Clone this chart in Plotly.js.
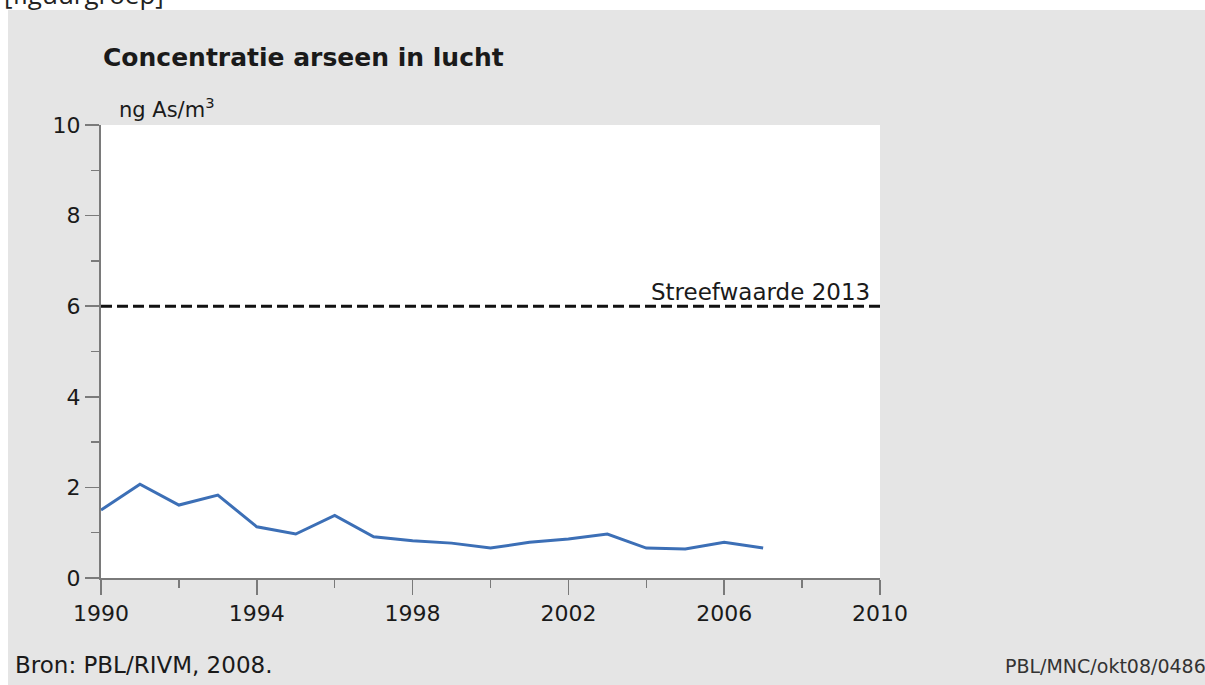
<!DOCTYPE html>
<html>
<head>
<meta charset="utf-8">
<script src="https://cdn.plot.ly/plotly-3.0.1.min.js"></script>
<style>html,body{margin:0;padding:0;background:#fff;}#chart{width:1205px;height:685px;}</style>
</head>
<body>
<div id="chart"></div>
<script>
// ---- data ----
const years = [1990,1991,1992,1993,1994,1995,1996,1997,1998,1999,2000,2001,2002,2003,2004,2005,2006,2007];
const arsenic = [1.50,2.07,1.61,1.83,1.13,0.97,1.38,0.91,0.82,0.77,0.66,0.79,0.86,0.97,0.66,0.64,0.79,0.66];
const targetYears = [1990, 2010];
const targetValue = [6, 6];
const targetLabel = "Streefwaarde 2013";
const titleText = "Concentratie arseen in lucht";
const unitText = "ng As/m<sup>3</sup>";
const sourceText = "Bron: PBL/RIVM, 2008.";
const codeText = "PBL/MNC/okt08/0486";
const headerText = "[figuurgroep]";

// ---- layout geometry (pixels) ----
const W = 1205, H = 685;
const L = 101, R = 325, T = 125, B = 107;
const pw = W - L - R, ph = H - T - B;
const px = x => (x - L) / pw;
const py = y => (H - B - y) / ph;

const FONT = "DejaVu Sans, Liberation Sans, Arial, sans-serif";
const tickColor = "#7a7a7a";

const traces = [
  {
    x: targetYears, y: targetValue, type: "scatter", mode: "lines",
    line: {color: "#111", width: 3, dash: "11px,5px"},
    hoverinfo: "skip", showlegend: false, cliponaxis: false
  },
  {
    x: years, y: arsenic, type: "scatter", mode: "lines",
    line: {color: "#3c6fb6", width: 3},
    showlegend: false
  }
];

const layout = {
  width: W, height: H,
  margin: {l: L, r: R, t: T, b: B, pad: 0},
  paper_bgcolor: "#e5e5e5",
  plot_bgcolor: "#ffffff",
  font: {family: FONT, color: "#222", size: 22},
  showlegend: false,
  title: {
    text: "<b>" + titleText + "</b>",
    font: {family: FONT, size: 25, color: "#1a1a1a"},
    xref: "paper", x: px(103), xanchor: "left",
    yref: "container", y: 1 - 57 / H, yanchor: "middle"
  },
  xaxis: {
    range: [1990, 2010], tickmode: "linear", tick0: 1990, dtick: 4,
    ticks: "outside", ticklen: 15, tickwidth: 1.5, tickcolor: tickColor,
    minor: {dtick: 2, tick0: 1990, ticks: "outside", ticklen: 8, tickwidth: 1.5, tickcolor: tickColor, showgrid: false},
    showline: true, linecolor: tickColor, linewidth: 2,
    showgrid: false, zeroline: false, fixedrange: true,
    tickfont: {family: FONT, size: 22, color: "#1a1a1a"}
  },
  yaxis: {
    range: [0, 10], tickmode: "linear", tick0: 0, dtick: 2,
    ticks: "outside", ticklen: 14, tickwidth: 1.5, tickcolor: tickColor,
    minor: {dtick: 1, tick0: 0, ticks: "outside", ticklen: 8, tickwidth: 1.5, tickcolor: tickColor, showgrid: false},
    showline: true, linecolor: tickColor, linewidth: 2,
    showgrid: false, zeroline: false, fixedrange: true,
    tickfont: {family: FONT, size: 22, color: "#1a1a1a"}
  },
  shapes: [
    {type: "rect", xref: "paper", yref: "paper", x0: px(-5), x1: px(W + 5), y0: py(10), y1: py(-5),
     fillcolor: "#ffffff", line: {width: 0}, layer: "below"},
    {type: "rect", xref: "paper", yref: "paper", x0: px(-5), x1: px(8), y0: py(H + 5), y1: py(-5),
     fillcolor: "#ffffff", line: {width: 0}, layer: "below"}
  ],
  annotations: [
    {text: unitText, xref: "paper", yref: "paper", x: px(117), y: py(108), xanchor: "left", yanchor: "middle",
     showarrow: false, font: {family: FONT, size: 21, color: "#1a1a1a"}},
    {text: targetLabel, xref: "x", yref: "y", x: 2010, y: targetValue[0], xanchor: "right", yanchor: "bottom",
     xshift: -8, yshift: -1, showarrow: false, font: {family: FONT, size: 23, color: "#1a1a1a"}},
    {text: sourceText, xref: "paper", yref: "paper", x: px(13), y: py(665), xanchor: "left", yanchor: "middle",
     showarrow: false, font: {family: FONT, size: 23, color: "#1a1a1a"}},
    {text: codeText, xref: "paper", yref: "paper", x: px(1003), y: py(666), xanchor: "left", yanchor: "middle",
     showarrow: false, font: {family: FONT, size: 19, color: "#333"}},
    {text: headerText, xref: "paper", yref: "paper", x: px(2), y: py(-6), xanchor: "left", yanchor: "middle",
     showarrow: false, font: {family: "Open Sans, sans-serif", size: 26, color: "#222"}}
  ]
};

Plotly.newPlot("chart", traces, layout, {displayModeBar: false, staticPlot: true});
</script>
</body>
</html>
